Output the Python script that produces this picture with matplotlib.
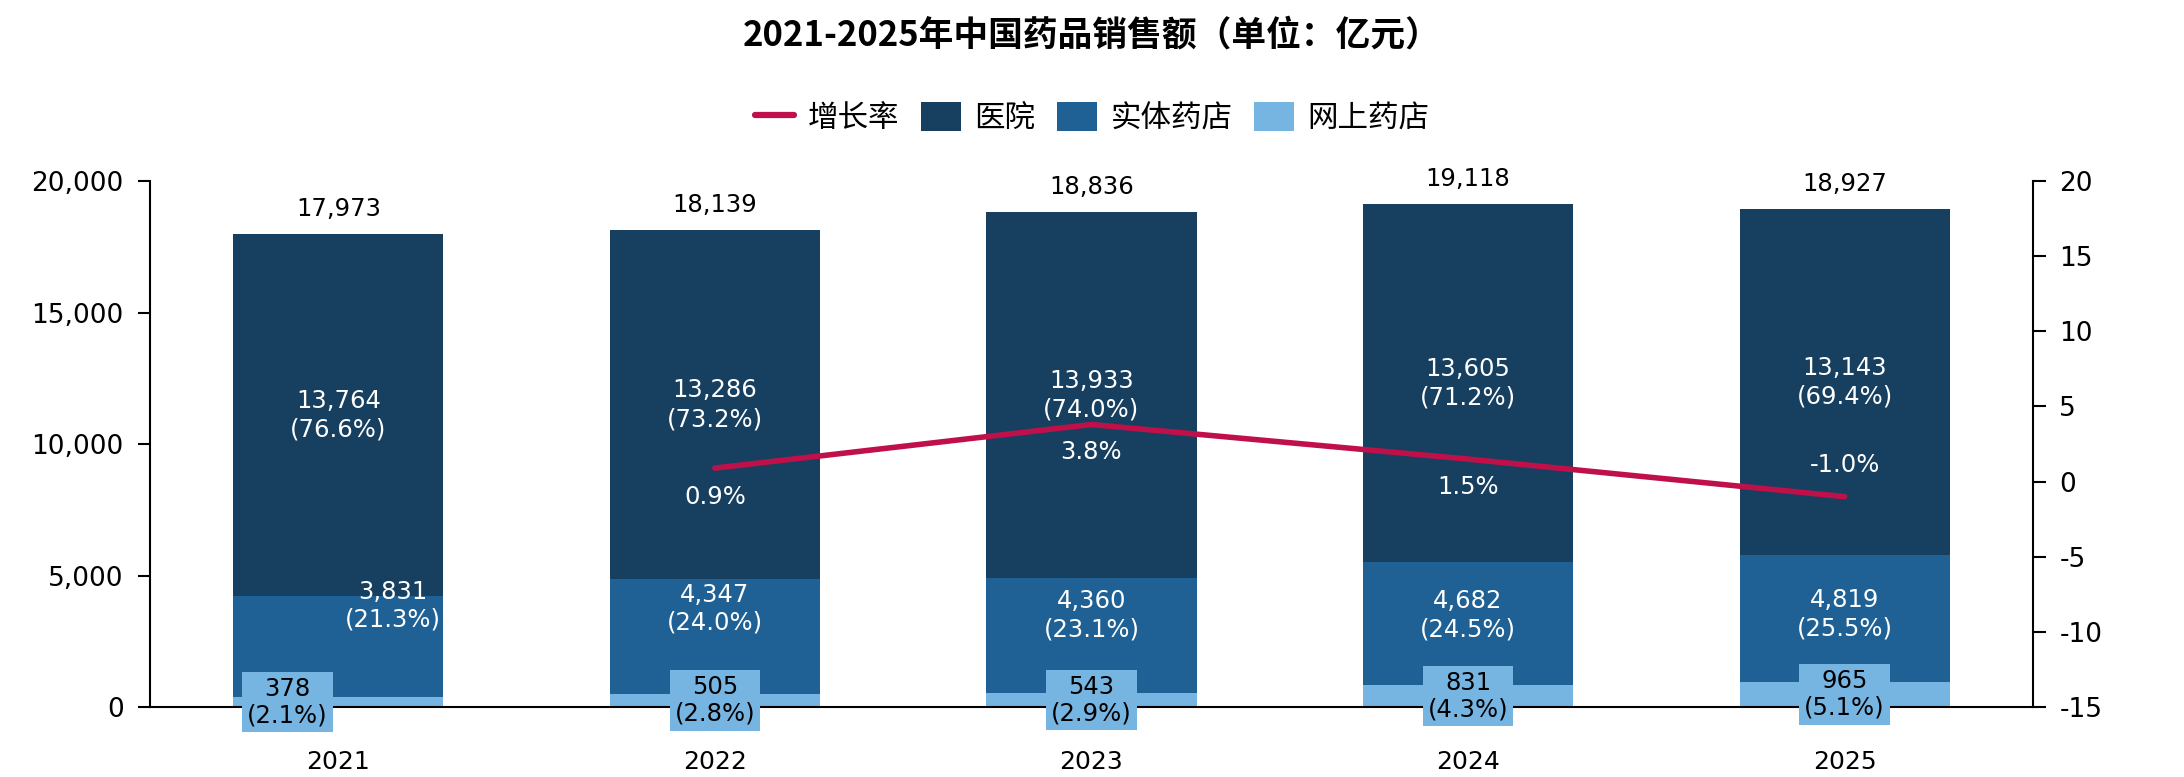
import matplotlib
matplotlib.use('Agg')
import matplotlib.pyplot as plt
from matplotlib.lines import Line2D
from matplotlib.patches import Patch
from matplotlib.ticker import FuncFormatter
import numpy as np

plt.rcParams['font.family'] = ['DejaVu Sans', 'Noto Sans CJK SC']
plt.rcParams['axes.unicode_minus'] = False

years = ['2021', '2022', '2023', '2024', '2025']
totals = [17973, 18139, 18836, 19118, 18927]
hospital = [13764, 13286, 13933, 13605, 13143]
retail = [3831, 4347, 4360, 4682, 4819]
online = [378, 505, 543, 831, 965]
growth_years = ['2022', '2023', '2024', '2025']
growth = [0.9, 3.8, 1.5, -1.0]

C_HOSP = '#173f5f'
C_RETAIL = '#1f6194'
C_ONLINE = '#76b4e2'
C_LINE = '#c0104a'

fig = plt.figure(figsize=(21.84, 7.77), dpi=100)
ax = fig.add_axes([0.0687, 0.090, 0.8621, 0.677])
ax2 = ax.twinx()

x = np.arange(len(years))
w = 0.558
hospital_bottom = np.array(online) + np.array(retail)
ax.bar(x, online, w, color=C_ONLINE, zorder=2)
ax.bar(x, retail, w, bottom=online, color=C_RETAIL, zorder=2)
ax.bar(x, hospital, w, bottom=hospital_bottom, color=C_HOSP, zorder=2)

gx = [years.index(y) for y in growth_years]
ax2.plot(gx, growth, color=C_LINE, lw=4, solid_capstyle='round', zorder=3)

ax.set_xlim(-0.5, len(years) - 0.5)
ax.set_ylim(0, 20000)
ax.set_yticks(np.arange(0, 20001, 5000))
ax.yaxis.set_major_formatter(FuncFormatter(lambda v, p: f'{int(v):,}'))
ax2.set_ylim(-15, 20)
ax2.set_yticks(np.arange(-15, 21, 5))
ax.set_xticks(x)
ax.set_xticklabels(years)

for a in (ax, ax2):
    a.spines['top'].set_visible(False)
    for s in a.spines.values():
        s.set_linewidth(1.5)
ax.spines['right'].set_visible(False)
ax2.spines['left'].set_visible(False)
ax2.spines['bottom'].set_visible(False)
ax.tick_params(axis='y', labelsize=19, length=9, width=1.5, pad=10)
ax2.tick_params(axis='y', labelsize=19, length=9, width=1.5, pad=10)
ax.tick_params(axis='x', labelsize=18, length=0, pad=31)
ax2.set_zorder(ax.get_zorder() + 1)
ax2.patch.set_visible(False)

fs = 17.5
# nudges for label placement (points / data x)
retail_dy = [29.5, 20, 14.5, 6, 3]
retail_dx = [0.146, 0, 0, 0, 0]
online_dx = [-0.135, 0, 0, 0, 0]
growth_dy = [-21, -19.5, -20, 23]

for i in range(len(years)):
    t = totals[i]
    ax.annotate(f'{t:,}', (x[i], t), xytext=(0, 18), textcoords='offset points',
                ha='center', va='center', fontsize=fs, color='black', zorder=5)
    ax.text(x[i], hospital_bottom[i] + hospital[i] / 2,
            f'{hospital[i]:,}\n({hospital[i] / t * 100:.1f}%)',
            ha='center', va='center', fontsize=fs, color='white', zorder=5,
            linespacing=1.25)
    ax.annotate(f'{retail[i]:,}\n({retail[i] / t * 100:.1f}%)',
                (x[i] + retail_dx[i], online[i] + retail[i] / 2),
                xytext=(0, retail_dy[i]), textcoords='offset points',
                ha='center', va='center', fontsize=fs, color='white', zorder=5,
                linespacing=1.2)
    ax.text(x[i] + online_dx[i], online[i] / 2,
            f'{online[i]:,}\n({online[i] / t * 100:.1f}%)',
            ha='center', va='center', fontsize=fs, color='black', zorder=6,
            linespacing=1.15,
            bbox=dict(boxstyle='square,pad=0.2', facecolor=C_ONLINE, edgecolor='none'))

for j, (xi, g) in enumerate(zip(gx, growth)):
    ax2.annotate(f'{g:.1f}%', (xi, g), xytext=(0, growth_dy[j]), textcoords='offset points',
                 ha='center', va='center', fontsize=fs, color='white', zorder=6)

fig.text(0.5, 0.955, '2021-2025年中国药品销售额（单位：亿元）', ha='center', va='center',
         fontsize=25, fontweight='bold', family=['Noto Sans CJK SC', 'DejaVu Sans'])

handles = [Line2D([], [], color=C_LINE, lw=4.5, solid_capstyle='round'),
           Patch(facecolor=C_HOSP), Patch(facecolor=C_RETAIL), Patch(facecolor=C_ONLINE)]
labels = ['增长率', '医院', '实体药店', '网上药店']
fig.legend(handles, labels, loc='center', bbox_to_anchor=(0.5, 0.848), ncol=4,
           frameon=False, prop={'family': ['Noto Sans CJK SC'], 'size': 22},
           handlelength=1.3, handleheight=1.1, handletextpad=0.45, columnspacing=0.7)

fig.savefig('out.png', dpi=100)
